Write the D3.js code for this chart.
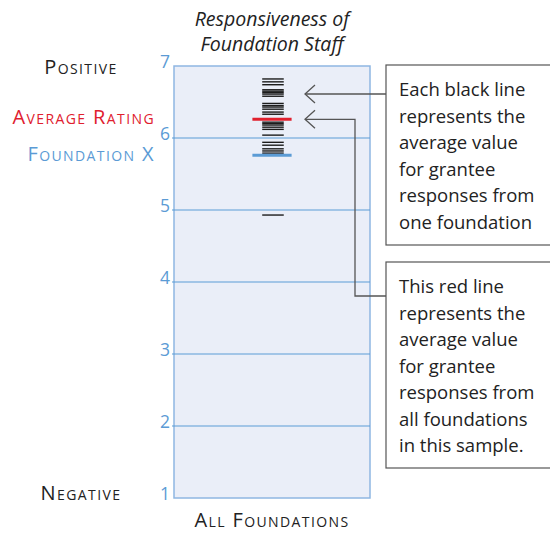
<!DOCTYPE html>
<html>
<head>
<meta charset="utf-8">
<script src="https://cdn.jsdelivr.net/npm/d3@7"></script>
<style>
  html, body { margin: 0; padding: 0; background: #fff; }
  svg { display: block; }
  text { font-family: "Open Sans", Lato, sans-serif; }
</style>
</head>
<body>
<svg id="chart" width="550" height="533"></svg>
<script>
// Average rating of each foundation (one black line each)
const foundationValues = [6.82, 6.78, 6.74, 6.67, 6.65, 6.63, 6.61, 6.58, 6.48, 6.45,
  6.43, 6.40, 6.36, 6.33, 6.22, 6.20, 6.18, 6.15, 6.12, 6.04, 5.94, 5.90, 5.85, 5.82,
  5.79, 4.93];
const averageRating = 6.26;   // all foundations
const foundationX = 5.76;     // highlighted foundation
const tickValues = [1, 2, 3, 4, 5, 6, 7];
const titleLines = ["Responsiveness of", "Foundation Staff"];
const note1 = ["Each black line", "represents the", "average value", "for grantee",
  "responses from", "one foundation"];
const note2 = ["This red line", "represents the", "average value", "for grantee",
  "responses from", "all foundations", "in this sample."];

const svg = d3.select("#chart");
const blue = "#5b9bd5";
const red = "#e0202e";

const plot = { x0: 174, x1: 370, y0: 66, y1: 498 };
const y = d3.scaleLinear().domain([1, 7]).range([plot.y1, plot.y0]);
const xc = d3.scaleLinear().domain([0, 1]).range([plot.x0, plot.x1]);

// Panel background
svg.append("rect")
  .attr("x", plot.x0).attr("y", plot.y0)
  .attr("width", plot.x1 - plot.x0).attr("height", plot.y1 - plot.y0)
  .attr("fill", "#eaeef8")
  .attr("stroke", "#8fb6e2").attr("stroke-width", 1.5);

// Gridlines
svg.append("g").selectAll("line")
  .data(tickValues.filter(d => d > 1 && d < 7))
  .join("line")
  .attr("x1", plot.x0 - 2).attr("x2", plot.x1)
  .attr("y1", d => y(d)).attr("y2", d => y(d))
  .attr("stroke", blue).attr("stroke-width", 1.2);

// Axis labels
const axis = d3.axisLeft(y).tickValues(tickValues).tickSize(0).tickPadding(4)
  .tickFormat(d3.format("d"));
const ag = svg.append("g").attr("transform", `translate(${plot.x0},0)`).call(axis);
ag.select(".domain").remove();
ag.selectAll("text")
  .attr("fill", blue).attr("font-size", 17.5)
  .attr("font-family", "'Open Sans', sans-serif")
  .attr("dy", "0.1em");

// Foundation lines
svg.append("g").selectAll("line")
  .data(foundationValues)
  .join("line")
  .attr("x1", xc(0.45)).attr("x2", xc(0.56))
  .attr("y1", d => y(d)).attr("y2", d => y(d))
  .attr("stroke", "#1c1c1c").attr("stroke-width", 1.4);

// Average and Foundation X markers
svg.append("line")
  .attr("x1", xc(0.40)).attr("x2", xc(0.60))
  .attr("y1", y(averageRating)).attr("y2", y(averageRating))
  .attr("stroke", red).attr("stroke-width", 3);
svg.append("line")
  .attr("x1", xc(0.40)).attr("x2", xc(0.60))
  .attr("y1", y(foundationX)).attr("y2", y(foundationX))
  .attr("stroke", blue).attr("stroke-width", 3);

// Title
svg.append("text")
  .attr("x", 272).attr("text-anchor", "middle")
  .attr("font-style", "italic").attr("font-size", 19.5).attr("fill", "#222")
  .selectAll("tspan").data(titleLines).join("tspan")
  .attr("x", 272).attr("y", (d, i) => 26 + i * 25).text(d => d);

// Left side labels (small caps)
function smallCaps(sel) {
  return sel.attr("font-variant", "small-caps").attr("letter-spacing", 1.4)
    .attr("font-size", 20);
}
smallCaps(svg.append("text")).attr("x", 81).attr("y", 74)
  .attr("text-anchor", "middle").attr("fill", "#222").text("Positive");
smallCaps(svg.append("text")).attr("x", 81).attr("y", 500)
  .attr("text-anchor", "middle").attr("fill", "#222").text("Negative");
smallCaps(svg.append("text")).attr("x", 155).attr("y", y(averageRating) + 5)
  .attr("text-anchor", "end").attr("fill", red).text("Average Rating");
smallCaps(svg.append("text")).attr("x", 155).attr("y", y(foundationX) + 6)
  .attr("text-anchor", "end").attr("fill", blue).text("Foundation X");
smallCaps(svg.append("text")).attr("x", 272).attr("y", 527)
  .attr("text-anchor", "middle").attr("fill", "#222").text("All Foundations");

// Annotation boxes
const box1 = { x: 386, y: 65, w: 170, h: 180 };
const box2 = { x: 386, y: 262, w: 170, h: 206 };
[box1, box2].forEach(b => {
  svg.append("rect").attr("x", b.x).attr("y", b.y).attr("width", b.w).attr("height", b.h)
    .attr("fill", "#fff").attr("stroke", "#555").attr("stroke-width", 1.2);
});
function note(lines, b) {
  svg.append("text").attr("font-size", 18.5).attr("fill", "#222")
    .selectAll("tspan").data(lines).join("tspan")
    .attr("x", b.x + 13).attr("y", (d, i) => b.y + 31 + i * 26.5).text(d => d);
}
note(note1, box1);
note(note2, box2);

// Connector lines with open arrowheads
const tipX = 305;
const arrowY1 = 94;
const arrowY2 = y(averageRating);
const elbowX = 355;
const conn = svg.append("g").attr("fill", "none").attr("stroke", "#555").attr("stroke-width", 1.3);
conn.append("path").attr("d", `M${box1.x},${arrowY1} H${tipX}`);
conn.append("path").attr("d", `M${box2.x},${296} H${elbowX} V${arrowY2} H${tipX}`);
[arrowY1, arrowY2].forEach(ay => {
  conn.append("path").attr("d", `M${tipX + 10},${ay - 9} L${tipX},${ay} L${tipX + 10},${ay + 9}`);
});
</script>
</body>
</html>
